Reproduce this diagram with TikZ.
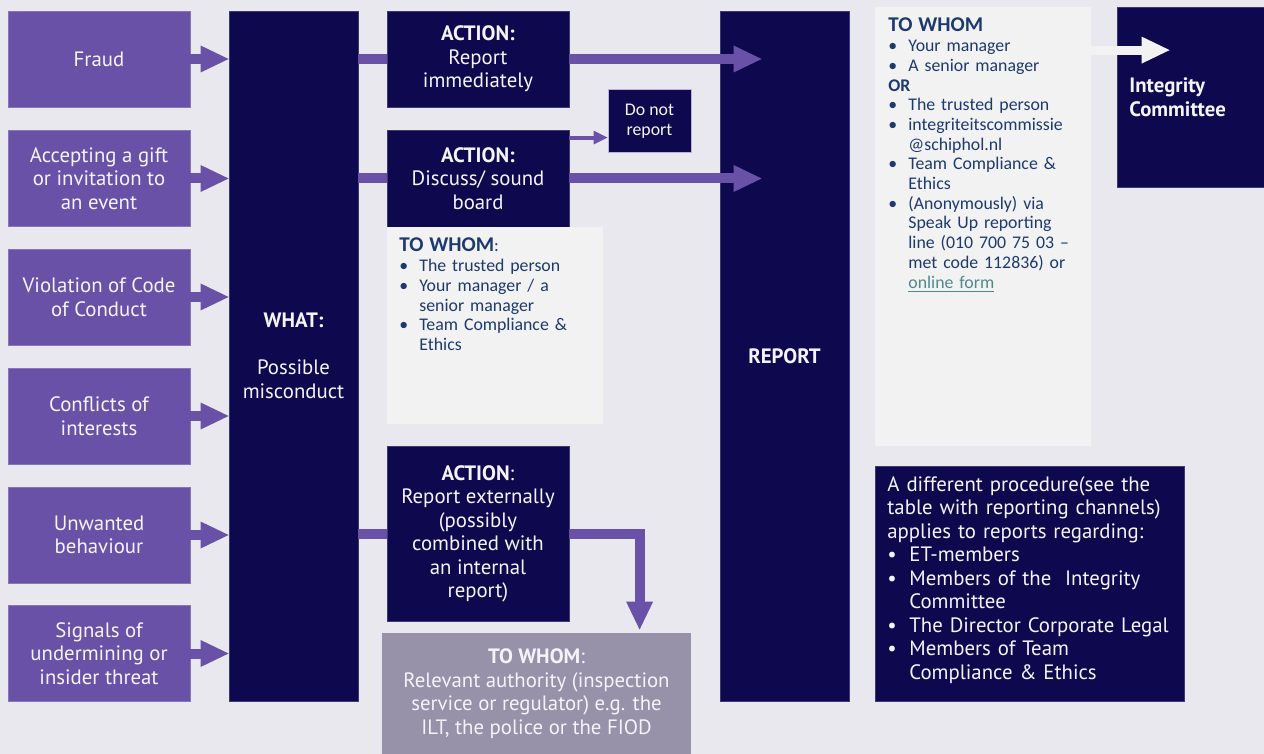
\documentclass[tikz,border=0pt]{standalone}
\usepackage{fontspec}
\setmainfont{PT Sans}
\newfontfamily\listfont{Carlito}
\usetikzlibrary{arrows.meta}
\definecolor{bg}{HTML}{E9E8EE}
\definecolor{vio}{HTML}{6A51A8}
\definecolor{navy}{HTML}{0E094E}
\definecolor{panelc}{HTML}{F2F2F2}
\definecolor{greybox}{HTML}{9791AA}
\definecolor{listblue}{HTML}{1C3A6E}
\definecolor{linkc}{HTML}{4F8A8B}
\definecolor{txtw}{HTML}{F4F4F8}
\newcommand{\mainsize}{\fontsize{10.4}{11.75}\selectfont}
\newcommand{\listsize}{\listfont\fontsize{8.9}{9.85}\selectfont}
\newcommand{\bitem}[2]{\par\hangindent=#1\hangafter=1\noindent\makebox[#1][l]{\textbullet}#2}
\begin{document}
\begin{tikzpicture}[x=0.5pt,y=-0.5pt,
  cat/.style={rectangle, fill=vio, draw=vio!80!white, line width=0.4pt, minimum width=91pt, minimum height=48pt, inner sep=0pt, text=txtw, align=center, font=\mainsize},
  dark/.style={rectangle, fill=navy, draw=navy!80!white, line width=0.4pt, inner sep=0pt, text=txtw, align=center, font=\mainsize},
  panelbox/.style={rectangle, fill=panelc, inner sep=0pt},
  listtext/.style={anchor=base west, inner sep=0pt, text=listblue, font=\listsize, align=left},
  fat/.style={draw=vio, line width=5pt},
  fatarrow/.style={fat, -{Triangle[length=14pt,width=13.5pt,line width=0pt]}},
  thinarrow/.style={draw=vio, line width=2pt, -{Triangle[length=7pt,width=7pt,line width=0pt]}},
  whitearrow/.style={draw=panelc, line width=4.5pt, -{Triangle[length=14pt,width=13.5pt,line width=0pt]}}
]
\useasboundingbox (0,0) rectangle (1264,754);
\fill[bg] (0,0) rectangle (1264,754);

% left categories
\node[cat] (fraud) at (99,59) {Fraud};
\node[cat] (gift) at (99,178.5) {Accepting a gift\\or invitation to\\an event};
\node[cat] (code) at (99,297) {Violation of Code\\of Conduct};
\node[cat] (conf) at (99,416) {Conflicts of\\interests};
\node[cat] (unw) at (99,535) {Unwanted\\behaviour};
\node[cat] (sig) at (99,653.5) {Signals of\\undermining or\\insider threat};

% what
\node[dark, minimum width=64.5pt, minimum height=345pt] (what) at (293.5,356) {\textbf{WHAT:}\\[11.75pt]Possible\\misconduct};

% actions
\node[dark, minimum width=91pt, minimum height=48pt] (act1) at (478,59) {\textbf{ACTION:}\\Report\\immediately};
\node[dark, minimum width=91pt, minimum height=48.5pt] (act2) at (478,178.5) {\textbf{ACTION:}\\Discuss/ sound\\board};
\node[dark, minimum width=41.5pt, minimum height=31.5pt, draw=vio!45!white, line width=0.5pt, font=\listfont\fontsize{8.9}{10}\selectfont] (dnr) at (649.5,121.5) {Do not\\report};
\node[dark, minimum width=91pt, minimum height=87.5pt] (act3) at (478,534) {\textbf{ACTION}:\\Report externally\\(possibly\\combined with\\an internal\\report)};
\node[rectangle, fill=greybox, minimum width=154.5pt, minimum height=60.5pt, inner sep=0pt, text=txtw, align=center, font=\mainsize] (auth) at (536.5,693.5) {\textbf{TO WHOM}:\\Relevant authority (inspection\\service or regulator) e.g. the\\ILT, the police or the FIOD};

% to whom panel (sound board)
\node[panelbox, minimum width=108pt, minimum height=98.5pt] (tw1) at (495,325.5) {};
\node[listtext, text width=100pt] (tw1txt) at (399,252) {{\fontsize{10.5}{12}\selectfont\bfseries TO WHOM}:%
\bitem{10pt}{The trusted person}%
\bitem{10pt}{Your manager / a\newline senior manager}%
\bitem{10pt}{Team Compliance \&\newline Ethics}\par};

% report
\node[dark, minimum width=64.5pt, minimum height=345pt] (report) at (784.5,356) {\textbf{REPORT}};

% to whom panel (report)
\node[panelbox, minimum width=108pt, minimum height=219.5pt] (tw2) at (983,226.5) {};
\node[listtext, text width=100pt] (tw2txt) at (888,32) {{\fontsize{10.5}{12}\selectfont\bfseries TO WHOM}%
\bitem{10pt}{Your manager}%
\bitem{10pt}{A senior manager}%
\par\noindent{\bfseries OR}%
\bitem{10pt}{The trusted person}%
\bitem{10pt}{integriteitscommissie\newline @schiphol.nl}%
\bitem{10pt}{Team Compliance \&\newline Ethics}%
\bitem{10pt}{(Anonymously) via\newline Speak Up reporting\newline line (010 700 75 03 –\newline met code 112836) or\newline \textcolor{linkc}{\underline{online form}}}\par};

% integrity committee
\node[dark, minimum width=73.5pt, minimum height=90pt] (integ) at (1190.5,97) {};
\node[anchor=base west, inner sep=0pt, text=txtw, font=\mainsize\bfseries, align=left, text width=65pt] (integtxt) at (1129,93) {Integrity\\Committee};

% different procedure
\node[dark, minimum width=154.5pt, minimum height=117.5pt] (diff) at (1029.5,583.5) {};
\node[anchor=base west, inner sep=0pt, text=txtw, font=\mainsize, align=left, text width=152pt] (difftxt) at (887,491) {A different procedure(see the\\table with reporting channels)\\applies to reports regarding:%
\bitem{11pt}{ET-members}%
\bitem{11pt}{Members of the~ Integrity\newline Committee}%
\bitem{11pt}{The Director Corporate Legal}%
\bitem{11pt}{Members of Team\newline Compliance \& Ethics}\par};

% connectors
\foreach \n in {fraud,gift,code,conf,unw,sig}
  \draw[fatarrow] (\n.east) -- (\n.east -| what.west);
\draw[fat] (act1.west -| what.east) -- (act1.west);
\draw[fat] (act2.west -| what.east) -- (act2.west);
\draw[fat] (act3.west -| what.east) -- (act3.west);
\draw[fatarrow] (act1.east) -- ([xshift=21pt]act1.east -| report.west);
\draw[fatarrow] (act2.east) -- ([xshift=21pt]act2.east -| report.west);
\draw[thinarrow] ([yshift=-4pt]act2.north east) -- ([yshift=-4pt]act2.north east -| dnr.west);
\draw[fatarrow] (act3.east) -| ([xshift=129pt,yshift=1.5pt]auth.north west);
\draw[whitearrow] ([yshift=-21.75pt]tw2.north east) -- ([yshift=-21.75pt,xshift=26.5pt]tw2.north east -| integ.west);
\end{tikzpicture}
\end{document}
